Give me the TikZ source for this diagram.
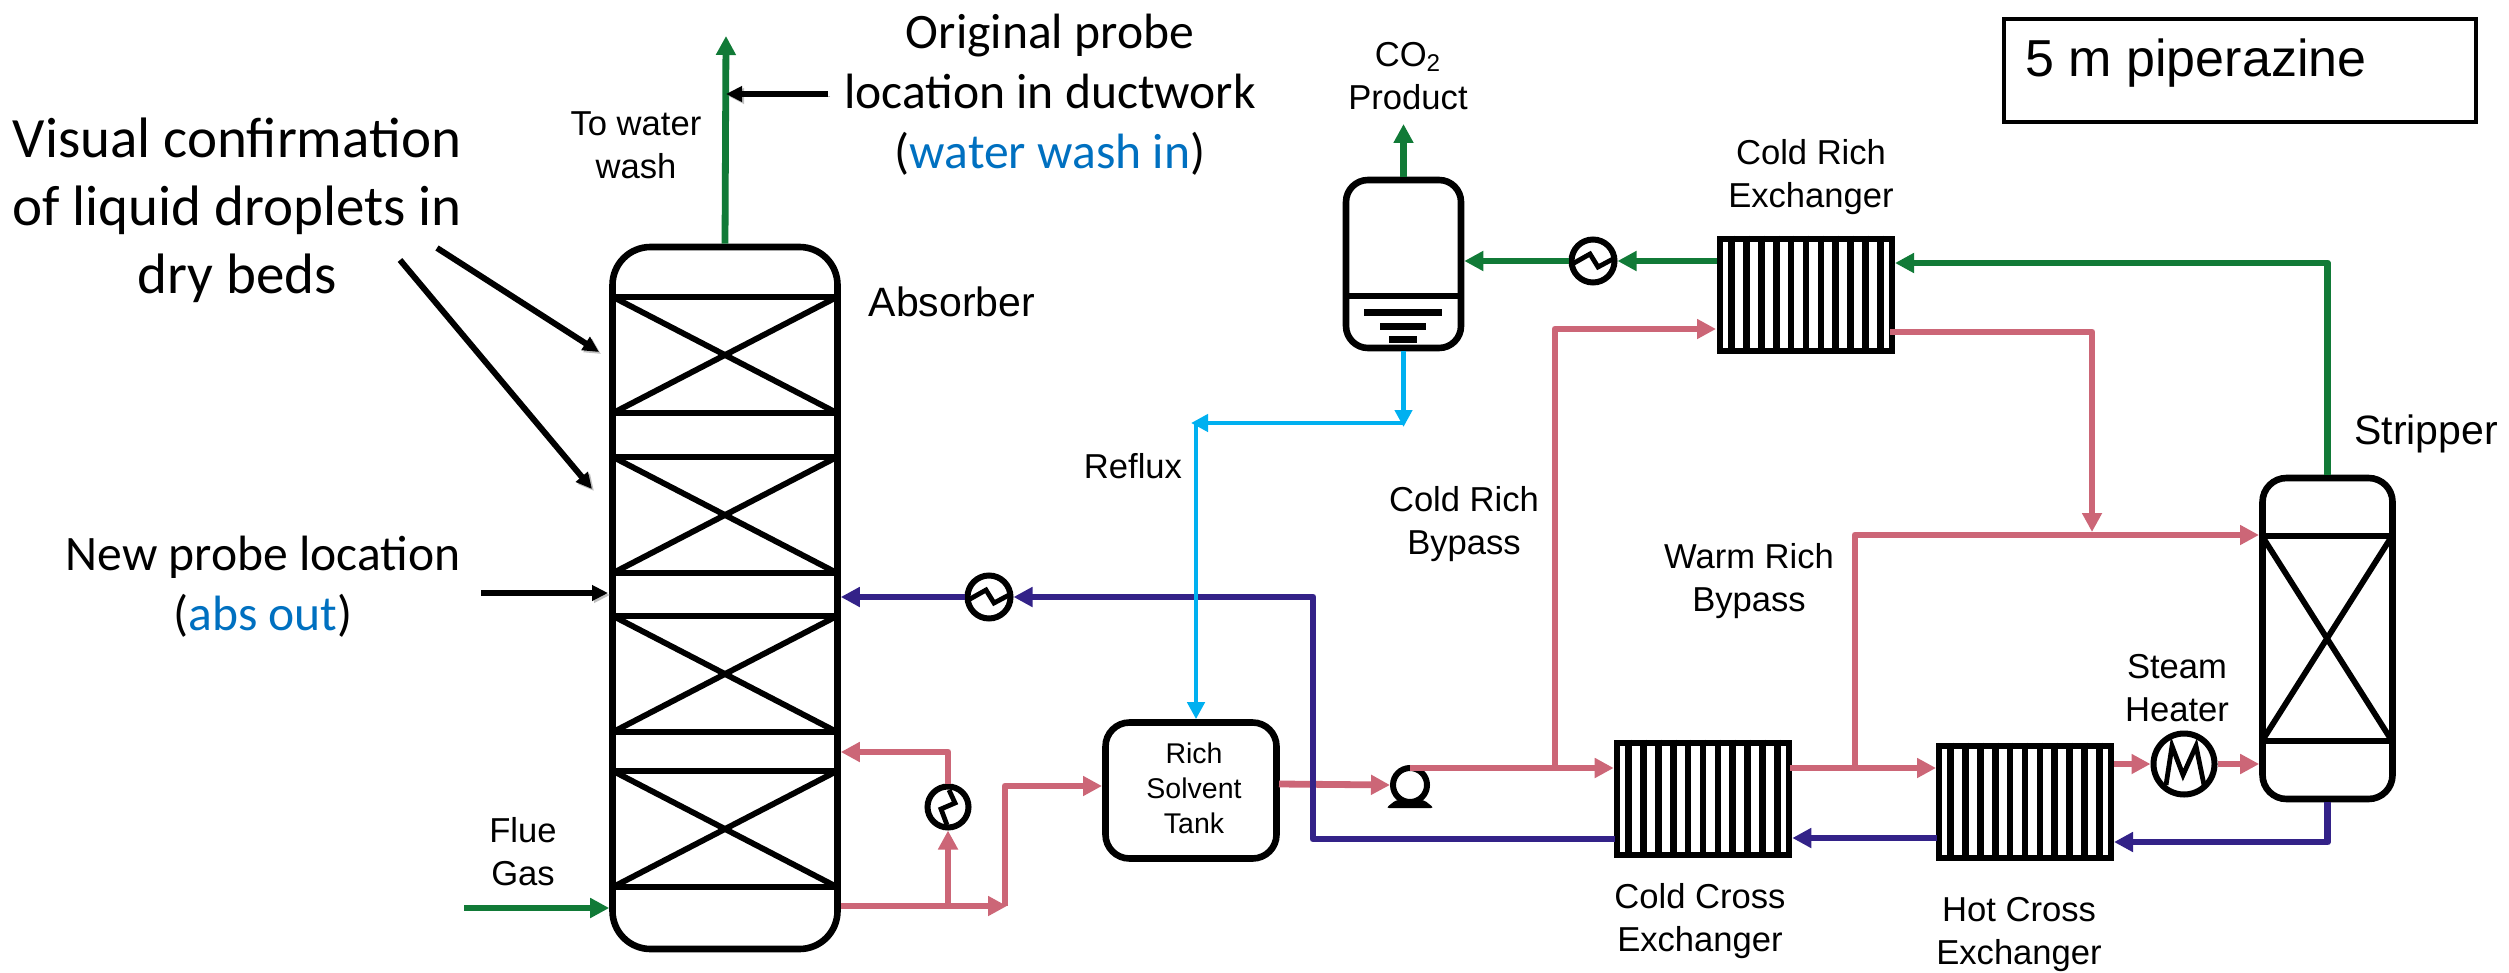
\documentclass[tikz,border=0pt]{standalone}
\usepackage{fontspec}
\setmainfont{Liberation Sans}
\newfontfamily\calloutfont{Carlito}
\usetikzlibrary{arrows.meta,calc}

\definecolor{richpink}{HTML}{CC6677}
\definecolor{gasgreen}{HTML}{117A37}
\definecolor{leanblue}{HTML}{332288}
\definecolor{refluxblue}{HTML}{00B0F0}
\definecolor{probeblue}{HTML}{0070C0}

\tikzset{
    unit/.style={rectangle, draw, line width=3.3pt},
    hxunit/.style={circle, draw, line width=3pt, inner sep=0pt},
    exchanger/.style={unit, minimum width=86pt, minimum height=56pt},
    flow/.style={line width=3.4pt, line join=round, -{Triangle[length=9.5pt,width=9.5pt]}},
    rich/.style={flow, draw=richpink},
    gas/.style={flow, draw=gasgreen},
    lean/.style={flow, draw=leanblue},
    reflux/.style={line width=2.2pt, draw=refluxblue, -{Triangle[length=8.5pt,width=8.5pt]}},
    pointer/.style={line width=3pt, -{Triangle[length=8pt,width=7.5pt]},
        preaction={draw=black!25, transform canvas={shift={(1pt,-1pt)}}}},
    tag/.style={inner sep=0pt, align=center, font=\fontsize{17.3}{21.5}\selectfont},
    callout/.style={inner sep=0pt, align=center, font=\calloutfont\fontsize{24.8}{30}\selectfont}
}

\begin{document}
\begin{tikzpicture}[x=0.5pt, y=-0.5pt]
    \useasboundingbox (0,0) rectangle (2509,973);

    \node[unit, rounded corners=19pt, minimum width=112.5pt, minimum height=351pt] (absorber) at (725,598) {};
    \foreach \bedtop/\bedbot in {297/413, 457/573, 616/732, 771/887} {
        \draw[line width=3.3pt] (612,\bedtop) -- (838,\bedtop) (612,\bedbot) -- (838,\bedbot);
        \draw[line width=2.9pt] (613,\bedtop) -- (837,\bedbot) (613,\bedbot) -- (837,\bedtop);
    }

    \node[unit, rounded corners=12pt, minimum width=65pt, minimum height=160.5pt] (stripper) at (2327.5,638.5) {};
    \draw[line width=3.3pt] (2261,536) -- (2394,536) (2261,741) -- (2394,741);
    \draw[line width=2.9pt] (2262,536) -- (2392,741) (2262,741) -- (2392,536);

    \node[unit, rounded corners=11pt, minimum width=57.5pt, minimum height=84pt] (condenser) at (1403.5,264) {};
    \draw[line width=3.3pt] (1344,296) -- (1462,296);
    \foreach \barleft/\bartop/\barright in {1364/309/1442, 1380/323/1426, 1389/336/1417} {
        \fill (\barleft,\bartop) rectangle (\barright,\bartop+7);
    }

    \node[unit, rounded corners=12pt, minimum width=85.5pt, minimum height=68pt] (tank) at (1191,790.5) {};
    \node[exchanger] (coldrich) at (1806,295) {};
    \node[exchanger] (coldcross) at (1703,799) {};
    \node[exchanger] (hotcross) at (2025,802) {};
    \foreach \hx in {coldrich, coldcross, hotcross} {
        \foreach \i in {1,...,11} {
            \draw[line width=3.3pt] ($(\hx.north west)!\i/12!(\hx.north east)$) -- ($(\hx.south west)!\i/12!(\hx.south east)$);
        }
    }

    \node[hxunit, minimum size=21.5pt] (hxtop) at (1593,261) {};
    \node[hxunit, minimum size=21.5pt] (hxlean) at (989,597) {};
    \node[hxunit, minimum size=20.5pt] (hxrec) at (948,807) {};
    \node[hxunit, minimum size=30.5pt] (heater) at (2184,764) {};
    \foreach \hx in {hxtop, hxlean} {
        \draw[line width=2.4pt] ([shift={(-19,2)}]\hx.center) -- ([shift={(-3,-7)}]\hx.center) -- ([shift={(5,6)}]\hx.center) -- ([shift={(20,-2)}]\hx.center);
    }
    \draw[line width=2.4pt] ([shift={(1,-17)}]hxrec.center) -- ([shift={(7,-4)}]hxrec.center) -- ([shift={(-7,2)}]hxrec.center) -- ([shift={(-1,18)}]hxrec.center);
    \draw[line width=2.4pt] ([shift={(-18,21)}]heater.center) -- ([shift={(-12,-18)}]heater.center) -- ([shift={(-1,11)}]heater.center) -- ([shift={(12,-18)}]heater.center) -- ([shift={(20,21)}]heater.center);

    \node[circle, draw, line width=3pt, inner sep=0pt, minimum size=17pt] (pump) at (1410,785) {};
    \fill[rounded corners=1.5pt] ([shift={(-24,23)}]pump.center) -- ([shift={(24,23)}]pump.center) -- ([shift={(14,15)}]pump.center) -- ([shift={(-14,15)}]pump.center) -- cycle;

    \node[rectangle, draw, line width=2pt, minimum width=236pt, minimum height=51.5pt] (basis) at (2240,70.5) {};
    \node[inner sep=0pt, anchor=west, font=\fontsize{26}{30}\selectfont] (basistext) at (2025,63) {5 m piperazine};

    \coordinate (washtop) at (726,36);
    \coordinate (fluein) at (464,908);
    \coordinate (co2top) at (1403.5,124);
    \coordinate (richgas) at (1895,263);
    \coordinate (leanturn) at (1313,597);
    \coordinate (leanout) at (1615,839);
    \coordinate (strippedin) at (2114,842);
    \coordinate (hotlean) at (1937,838);
    \coordinate (richsplit) at (1007,906);
    \coordinate (richturn) at (1005,906);
    \coordinate (recycle) at (948,906);
    \coordinate (tankin) at (1102,786);
    \coordinate (tankout) at (1279,784);
    \coordinate (pumpout) at (1410,768);
    \coordinate (coldtap) at (1555,768);
    \coordinate (coldin) at (1716,329);
    \coordinate (coldout) at (1890,332);
    \coordinate (richdrop) at (2092,532);
    \coordinate (warmtap) at (1855,768);
    \coordinate (warmin) at (2259,535);
    \coordinate (crossout) at (1790,768);
    \coordinate (hotin) at (1936,768);
    \coordinate (refluxdrop) at (1403.5,427);
    \coordinate (refluxbend) at (1403.5,423);
    \coordinate (refluxleft) at (1191,423);
    \coordinate (refluxturn) at (1196,423);
    \coordinate (dropa) at (437,248);
    \coordinate (dropb) at (400,260);
    \coordinate (bedtipa) at (599,352);
    \coordinate (bedtipb) at (592,489);
    \coordinate (newprobe) at (481,593);
    \coordinate (newtip) at (608,593);
    \coordinate (oldprobe) at (828,94);
    \coordinate (oldtip) at (726,94);

    \draw[gas] (absorber.north) -- (washtop);
    \draw[gas] (fluein) -- (absorber.west |- fluein);
    \draw[gas] (condenser.north) -- (co2top);
    \draw[gas] (stripper.north) |- (richgas);
    \draw[gas] (coldrich.west |- hxtop.east) -- (hxtop.east);
    \draw[gas] (hxtop.west) -- (condenser.east |- hxtop.west);

    \draw[rich] (richturn) |- (tankin);
    \draw[rich] (absorber.east |- richsplit) -- (richsplit);
    \draw[rich] (recycle) -- (hxrec.south);
    \draw[rich] (hxrec.north) |- (absorber.east |- 0,752);
    \draw[rich] (tankout) -- (pump.west);
    \draw[rich] (coldtap) |- (coldin);
    \draw[rich] (pumpout) -- (coldcross.west |- pumpout);
    \draw[rich] (coldout) -| (richdrop);
    \draw[rich] (warmtap) |- (warmin);
    \draw[rich] (crossout) -- (hotin);
    \draw[rich] (hotcross.east |- heater.west) -- (heater.west);
    \draw[rich] (heater.east) -- (stripper.west |- heater.east);

    \draw[lean] (leanout) -| (leanturn) -- (hxlean.east);
    \draw[lean] (hxlean.west) -- (absorber.east |- hxlean.west);
    \draw[lean] (stripper.south) |- (strippedin);
    \draw[lean] (hotlean) -- (coldcross.east |- hotlean);

    \draw[reflux] (condenser.south) -- (refluxdrop);
    \draw[reflux] (refluxbend) -- (refluxleft);
    \draw[reflux] (refluxturn) -- (refluxturn |- tank.north);

    \draw[pointer] (dropa) -- (bedtipa);
    \draw[pointer] (dropb) -- (bedtipb);
    \draw[pointer] (newprobe) -- (newtip);
    \draw[pointer] (oldprobe) -- (oldtip);

    \node[callout, font=\calloutfont\fontsize{28.5}{34}\selectfont] (dropnote) at (237,210) {Visual confirmation\\of liquid droplets in\\dry beds};
    \node[callout] (oldnote) at (1050,95) {Original probe\\location in ductwork\\({\color{probeblue}water wash in})};
    \node[callout] (newnote) at (263,587) {New probe location\\({\color{probeblue}abs out})};

    \node[tag] (washlabel) at (636,145) {To water\\wash};
    \node[tag, font=\fontsize{20.5}{24}\selectfont] (abslabel) at (952,302) {Absorber};
    \node[tag, font=\fontsize{20.5}{24}\selectfont] (striplabel) at (2426,434) {Stripper};
    \node[tag] (fluelabel) at (523,852) {Flue\\Gas};
    \node[tag, font=\fontsize{14.25}{17.5}\selectfont] (tanklabel) at (1194,788) {Rich\\Solvent\\Tank};
    \node[tag] (co2label) at (1408,76) {CO\textsubscript{2}\\Product};
    \node[tag] (refluxlabel) at (1133,466) {Reflux};
    \node[tag] (bypasscold) at (1464,524) {Cold Rich\\Bypass};
    \node[tag] (bypasswarm) at (1749,581) {Warm Rich\\Bypass};
    \node[tag] (richlabel) at (1811,177) {Cold Rich\\Exchanger};
    \node[tag] (coldlabel) at (1700,921) {Cold Cross\\Exchanger};
    \node[tag] (hotlabel) at (2019,935) {Hot Cross\\Exchanger};
    \node[tag] (heatlabel) at (2177,688) {Steam\\Heater};
\end{tikzpicture}
\end{document}
